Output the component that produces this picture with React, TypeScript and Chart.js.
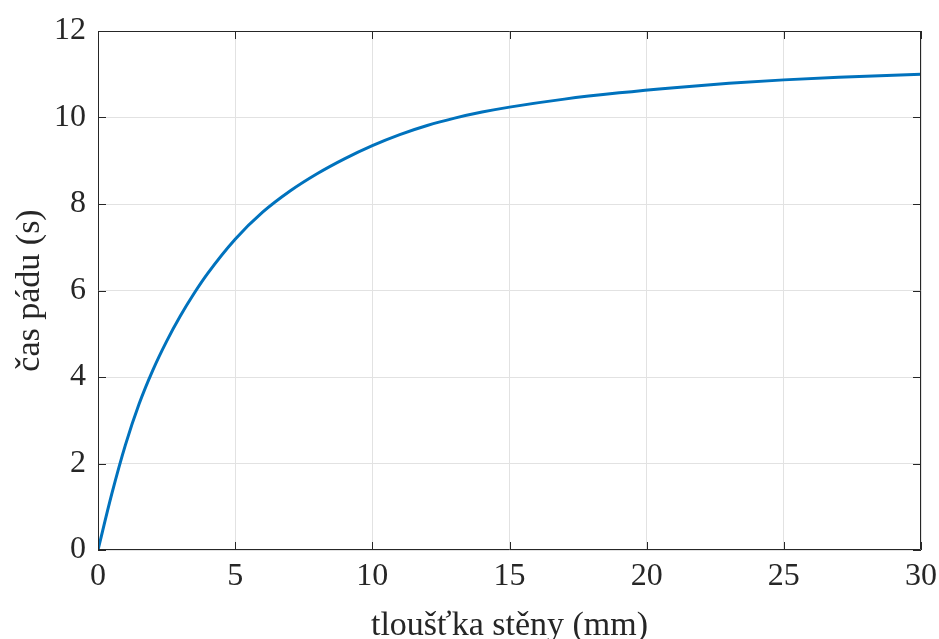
import React, { useEffect, useRef } from "react";
import { Chart, registerables } from "chart.js";

Chart.register(...registerables);

const thicknessMm = [0, 0.5, 1, 1.5, 2, 2.5, 3, 3.5, 4, 5, 6, 7, 8, 9, 10, 11, 12, 13, 14, 15, 17, 19, 21, 23, 25, 27, 30];
const fallTimeS = [0, 1.29, 2.43, 3.38, 4.16, 4.825, 5.41, 5.93, 6.395, 7.185, 7.81, 8.3, 8.705, 9.05, 9.35, 9.605, 9.815, 9.985, 10.125, 10.24, 10.425, 10.57, 10.69, 10.79, 10.87, 10.93, 11.0];
const xTicks = [0, 5, 10, 15, 20, 25, 30];
const yTicks = [0, 2, 4, 6, 8, 10, 12];
const xTitle = "tloušťka stěny (mm)";
const yTitle = "čas pádu (s)";

const FONT = "'Liberation Serif', 'DejaVu Serif', serif";
const AXIS_COLOR = "#262626";

const boxTicksPlugin = {
  id: "boxTicks",
  afterDraw(chart: any) {
    const { ctx, chartArea } = chart;
    const { left, right, top, bottom } = chartArea;
    const xs = chart.scales.x;
    const ys = chart.scales.y;
    const len = 8;
    ctx.save();
    ctx.strokeStyle = AXIS_COLOR;
    ctx.lineWidth = 1;
    ctx.beginPath();
    ctx.rect(left + 0.5, top + 0.5, right - left - 1, bottom - top - 1);
    ctx.stroke();
    ctx.beginPath();
    xs.ticks.forEach((t: any) => {
      const px = Math.round(xs.getPixelForValue(t.value)) + 0.5;
      ctx.moveTo(px, bottom);
      ctx.lineTo(px, bottom - len);
      ctx.moveTo(px, top);
      ctx.lineTo(px, top + len);
    });
    ys.ticks.forEach((t: any) => {
      const py = Math.round(ys.getPixelForValue(t.value)) + 0.5;
      ctx.moveTo(left, py);
      ctx.lineTo(left + len, py);
      ctx.moveTo(right, py);
      ctx.lineTo(right - len, py);
    });
    ctx.stroke();
    ctx.restore();
  },
};

export default function App() {
  const ref = useRef<HTMLCanvasElement | null>(null);

  useEffect(() => {
    document.body.style.margin = "0";
    const canvas = ref.current;
    if (!canvas) return;
    const chart = new Chart(canvas, {
      type: "line",
      data: {
        datasets: [
          {
            data: thicknessMm.map((x, i) => ({ x, y: fallTimeS[i] })),
            borderColor: "#0072BD",
            borderWidth: 3,
            pointRadius: 0,
            fill: false,
            cubicInterpolationMode: "monotone",
          },
        ],
      },
      options: {
        animation: false,
        responsive: false,
        maintainAspectRatio: false,
        layout: { padding: { top: 31, right: 18, left: 0, bottom: 0 } },
        plugins: { legend: { display: false }, tooltip: { enabled: false } },
        scales: {
          x: {
            type: "linear",
            min: 0,
            max: 30,
            afterBuildTicks: (s: any) => {
              s.ticks = xTicks.map((v) => ({ value: v }));
            },
            afterFit: (s: any) => {
              s.height = 639 - 550;
              s.paddingLeft = 0;
              s.paddingRight = 0;
            },
            ticks: {
              color: AXIS_COLOR,
              font: { family: FONT, size: 32 },
              padding: 7,
              maxRotation: 0,
              autoSkip: false,
            },
            grid: { color: "#e2e2e2", lineWidth: 1, drawTicks: false },
            border: { display: false },
            title: {
              display: true,
              text: xTitle,
              color: AXIS_COLOR,
              font: { family: FONT, size: 34, lineHeight: 1 },
              padding: { top: 0, bottom: -4 },
            },
          },
          y: {
            type: "linear",
            min: 0,
            max: 12,
            afterBuildTicks: (s: any) => {
              s.ticks = yTicks.map((v) => ({ value: v }));
            },
            afterFit: (s: any) => {
              s.width = 98;
              s.paddingTop = 0;
              s.paddingBottom = 0;
            },
            ticks: {
              color: AXIS_COLOR,
              font: { family: FONT, size: 32 },
              padding: 12,
              autoSkip: false,
            },
            grid: { color: "#e2e2e2", lineWidth: 1, drawTicks: false },
            border: { display: false },
            title: {
              display: true,
              text: yTitle,
              color: AXIS_COLOR,
              font: { family: FONT, size: 34, lineHeight: 1 },
              padding: { top: 13, bottom: 0 },
            },
          },
        },
      },
      plugins: [boxTicksPlugin],
    } as any);
    return () => chart.destroy();
  }, []);

  return (
    <canvas
      ref={ref}
      width={939}
      height={639}
      style={{ display: "block", width: 939, height: 639 }}
    />
  );
}
